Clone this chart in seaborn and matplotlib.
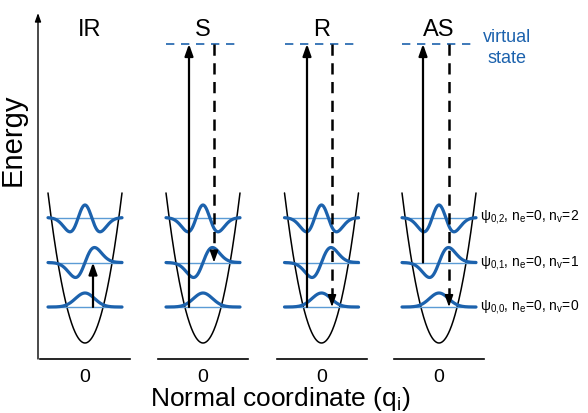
import numpy as np
import pandas as pd
import matplotlib
matplotlib.use("Agg")
import matplotlib.pyplot as plt
import seaborn as sns

# ---------------- data (schematic, in pixel-like energy units) ----------------
panels = ["IR", "S", "R", "AS"]
level_energy = [52.0, 96.5, 141.5]          # v = 0, 1, 2
virtual_energy = 315.0
well_bottom = 16.0
well_curvature = 0.1096
well_halfwidth = 37.0
wave_amplitude = [14.0, 24.7, -12.5]
wave_width = 9.5
level_labels = [r"ψ$_{0{,}0}$, n$_e$=0, n$_v$=0",
                r"ψ$_{0{,}1}$, n$_e$=0, n$_v$=1",
                r"ψ$_{0{,}2}$, n$_e$=0, n$_v$=2"]
up_start = [0, 0, 0, 1]
up_end = [1, "virtual", "virtual", "virtual"]
down_start = [None, "virtual", "virtual", "virtual"]
down_end = [None, 1, 0, 0]
tick_labels = ["0", "0", "0", "0"]

# ---------------- style ----------------
sns.set_style("white")
plt.rcParams["font.family"] = ["Liberation Sans", "DejaVu Sans"]
plt.rcParams["mathtext.fontset"] = "custom"
plt.rcParams["mathtext.rm"] = "Liberation Sans"
plt.rcParams["mathtext.default"] = "regular"
plt.rcParams["text.color"] = "black"
plt.rcParams["xtick.color"] = "black"
plt.rcParams["axes.edgecolor"] = "black"

DARK = "#1c62ad"
LIGHT = "#5b9bd5"

fig = plt.figure(figsize=(5.88, 4.13), dpi=100)
W, H = 588.0, 413.0
lefts = [40, 158, 276.5, 394]
pw = 90.0
bottom_px, top_px = 359.0, 15.0
axes = []
for L in lefts:
    ax = fig.add_axes([L / W, (H - bottom_px) / H, pw / W, (bottom_px - top_px) / H])
    ax.set_xlim(-pw / 2, pw / 2)
    ax.set_ylim(0, bottom_px - top_px)
    axes.append(ax)


def energy(k):
    return virtual_energy if k == "virtual" else level_energy[k]


def hermite_shape(n, u):
    g = np.exp(-u ** 2 / 2)
    if n == 0:
        return g
    if n == 1:
        return u * g
    return (2 * u ** 2 - 1) * g


# Build curve table
xs = np.linspace(-well_halfwidth, well_halfwidth, 301)
rows = []
for n, E in enumerate(level_energy):
    y = E + wave_amplitude[n] * hermite_shape(n, xs / wave_width)
    rows.append(pd.DataFrame({"x": xs, "y": y, "curve": f"psi{n}"}))
wave_df = pd.concat(rows, ignore_index=True)
xw = np.linspace(-well_halfwidth, well_halfwidth, 301)
well_df = pd.DataFrame({"x": xw, "y": well_bottom + well_curvature * xw ** 2})
lines_df = pd.concat([pd.DataFrame({"x": [-well_halfwidth, well_halfwidth], "y": [E, E], "curve": f"lvl{n}"})
                      for n, E in enumerate(level_energy)], ignore_index=True)

up_dx = [8, -14, -14.5, -16]
down_dx = [0, 11, 10.5, 10]
HEAD = 10.0

for i, ax in enumerate(axes):
    # well
    sns.lineplot(data=well_df, x="x", y="y", ax=ax, color="black", lw=1.1,
                 estimator=None, sort=False)
    # level lines
    sns.lineplot(data=lines_df, x="x", y="y", units="curve", ax=ax, color=LIGHT, lw=1.0,
                 estimator=None, sort=False)
    # wavefunctions
    sns.lineplot(data=wave_df, x="x", y="y", units="curve", ax=ax, color=DARK, lw=2.3,
                 estimator=None, sort=False)
    # virtual state
    if i > 0:
        ax.plot([-well_halfwidth, well_halfwidth], [virtual_energy] * 2, color=DARK,
                lw=1.2, dashes=(5, 4), clip_on=False)
    # up arrow (solid)
    x = up_dx[i]
    ax.annotate("", xy=(x, energy(up_end[i])), xytext=(x, energy(up_start[i])),
                arrowprops=dict(arrowstyle="-|>,head_length=0.7,head_width=0.25",
                                lw=1.6, color="black", shrinkA=0, shrinkB=0),
                annotation_clip=False)
    # down arrow (dashed)
    if down_start[i] is not None:
        x = down_dx[i]
        y0 = energy(down_start[i])
        y1 = energy(down_end[i])
        ax.plot([x, x], [y0, y1 + HEAD], color="black", lw=1.8, dashes=(4.5, 3),
                solid_capstyle="butt", dash_capstyle="butt", clip_on=False)
        ax.annotate("", xy=(x, y1), xytext=(x, y1 + HEAD),
                    arrowprops=dict(arrowstyle="-|>,head_length=0.7,head_width=0.25",
                                    lw=1.2, color="black", shrinkA=0, shrinkB=0),
                    annotation_clip=False)
    # title
    ax.text(5 if i == 0 else 0, 329, panels[i], ha="center", va="center", fontsize=17,
            clip_on=False)
    # axes styling
    for s in ["top", "right", "left"]:
        ax.spines[s].set_visible(False)
    ax.spines["bottom"].set_linewidth(1.2)
    ax.spines["bottom"].set_color("black")
    ax.set_xticks([0])
    ax.set_xticklabels([tick_labels[i]])
    ax.set_yticks([])
    ax.tick_params(axis="x", length=0, pad=7, labelsize=14, labelcolor="black")
    ax.set_xlabel("")
    ax.set_ylabel("")
    ax.patch.set_alpha(0)

# y axis arrow on first panel
axes[0].annotate("", xy=(-47, 346), xytext=(-47, 0),
                 arrowprops=dict(arrowstyle="-|>,head_length=0.5,head_width=0.18",
                                 lw=1.0, color="black", shrinkA=0, shrinkB=0),
                 annotation_clip=False)

# level labels
for n, E in enumerate(level_energy):
    axes[3].text(41, E, level_labels[n], ha="left", va="center", fontsize=10, clip_on=False)

axes[3].text(68, 311, "virtual\nstate", color=DARK, ha="center", va="center",
             fontsize=13, linespacing=1.25, clip_on=False)

fig.text(13 / W, (H - 140) / H, "Energy", rotation=90, ha="center", va="center", fontsize=21)
fig.text(280 / W, (H - 399) / H, "Normal coordinate (q$_i$)", ha="center", va="center",
         fontsize=19)

fig.savefig("out.png", dpi=100)
